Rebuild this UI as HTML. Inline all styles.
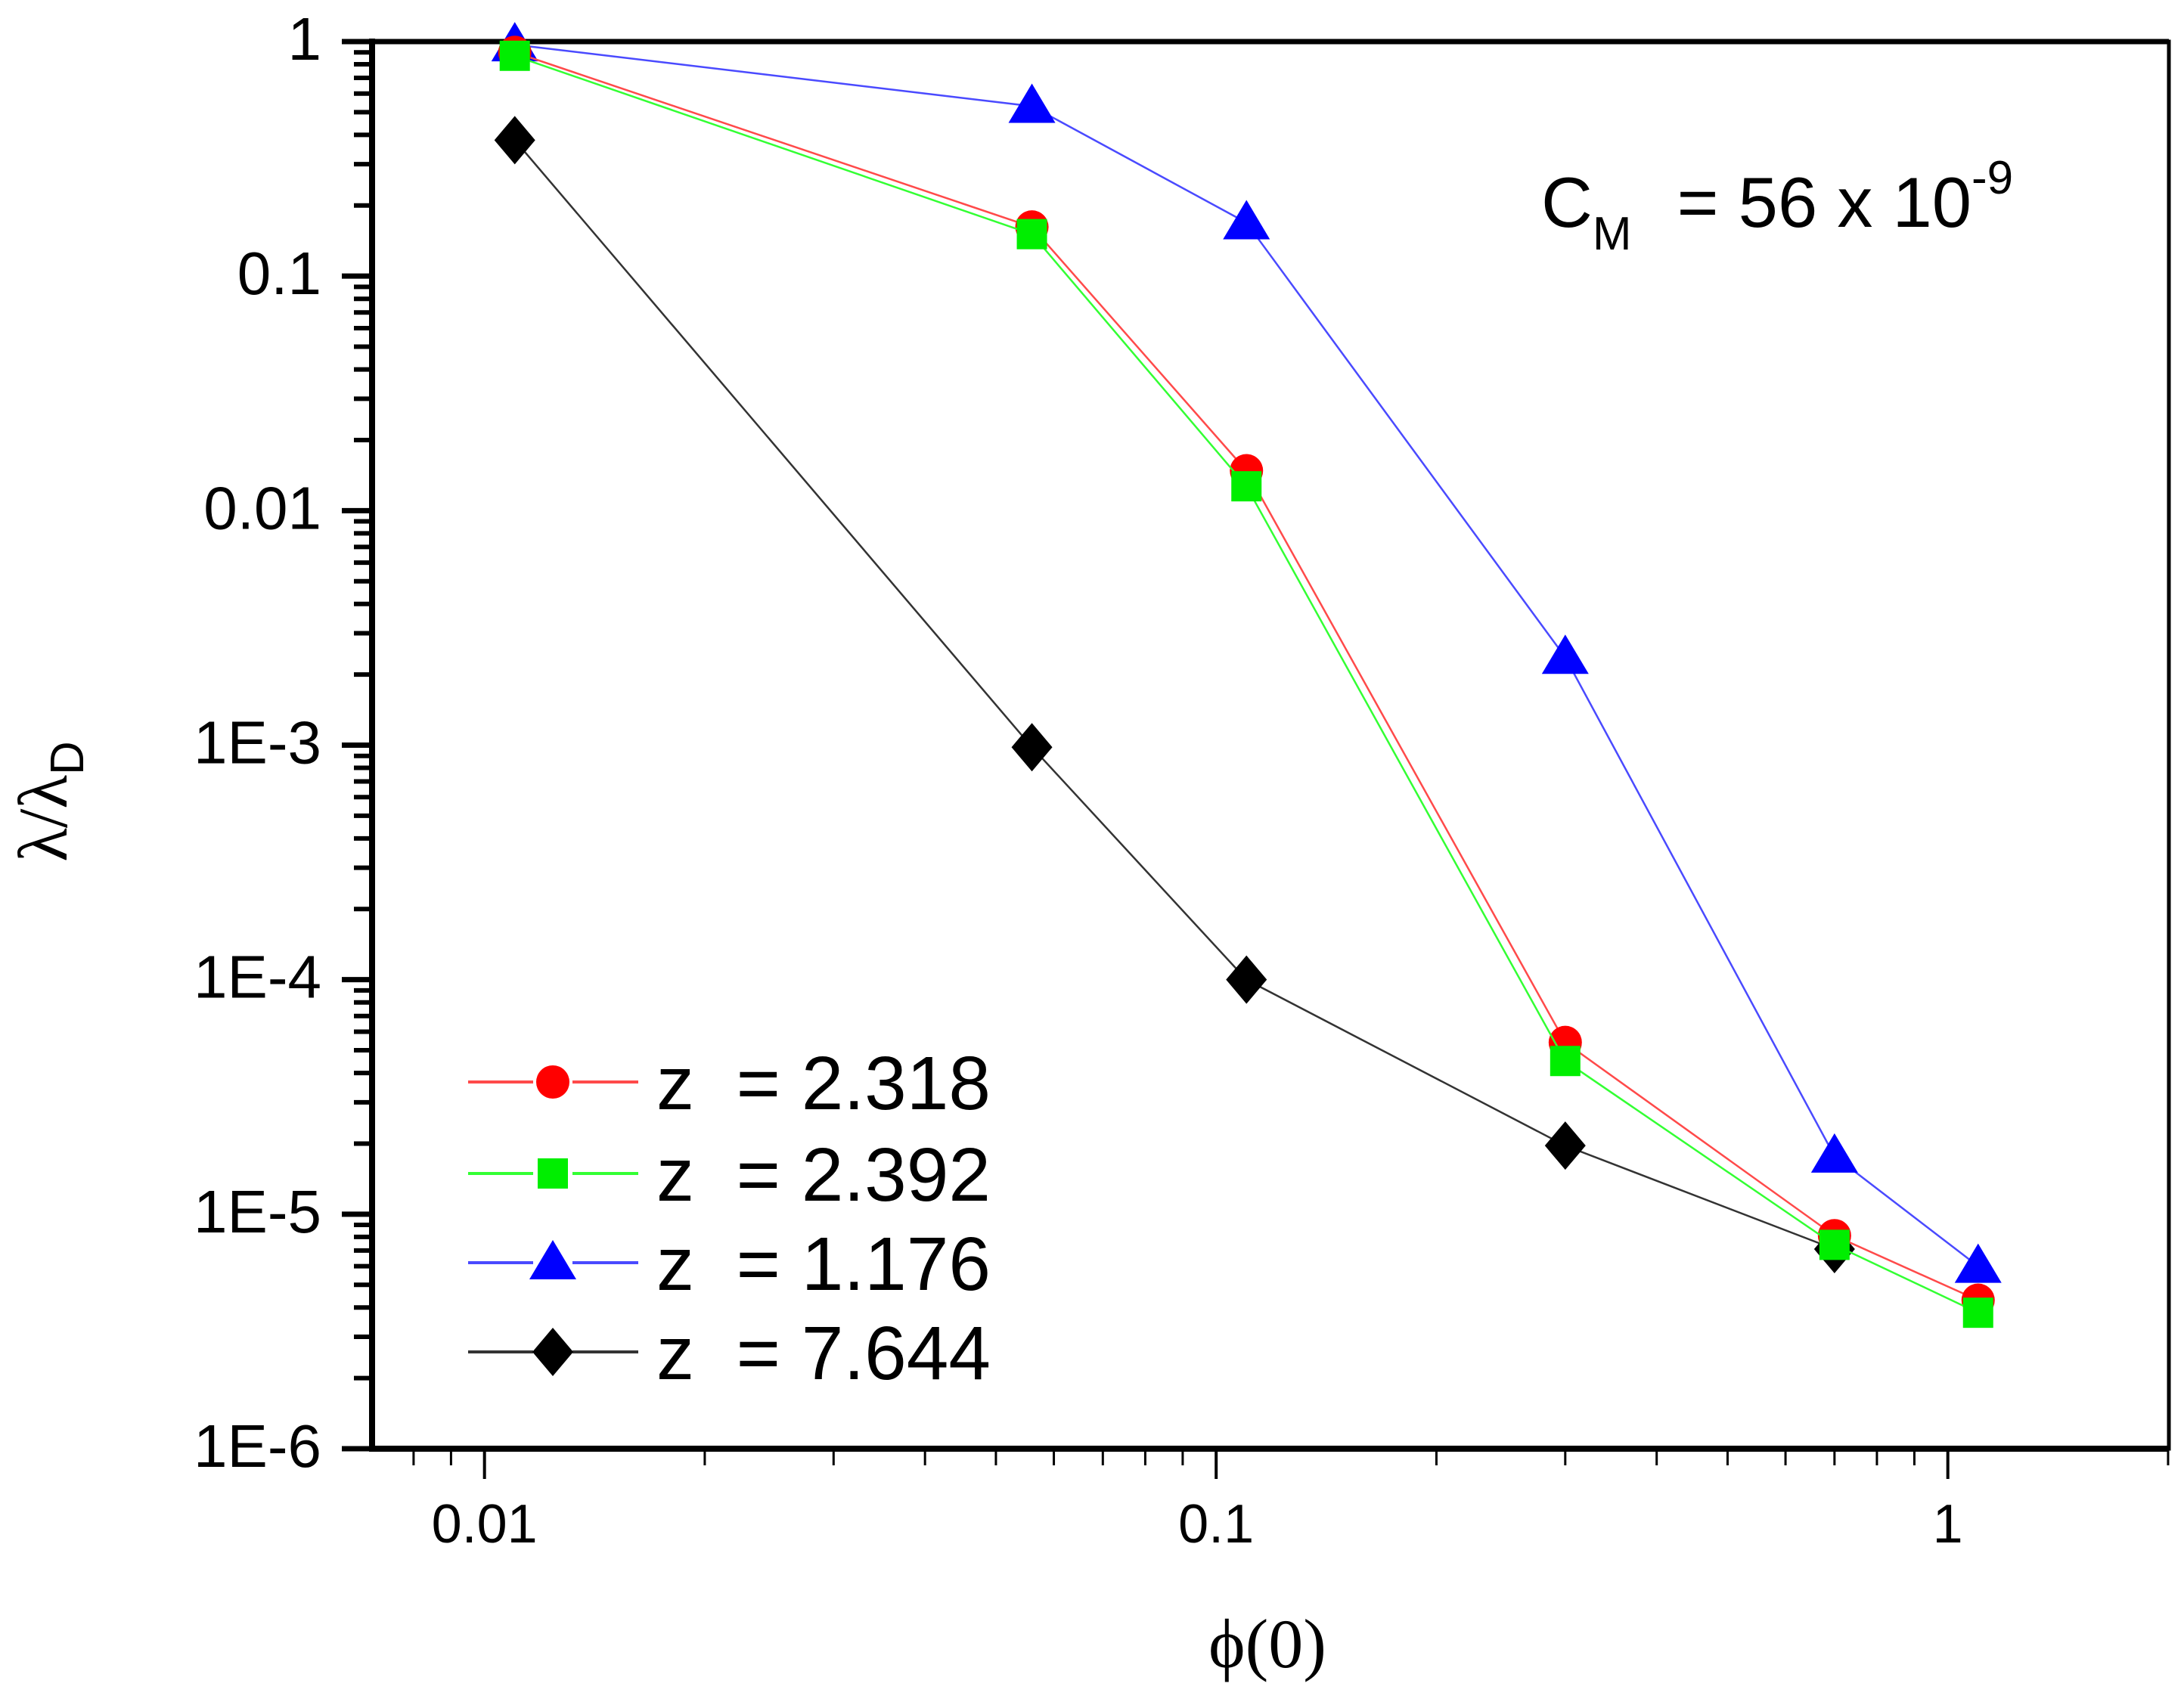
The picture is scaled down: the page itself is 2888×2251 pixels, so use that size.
<!DOCTYPE html>
<html><head><meta charset="utf-8"><style>
html,body{margin:0;padding:0;background:#fff;}
svg{display:block;}
text{font-family:"Liberation Sans",sans-serif;fill:#000;}
</style></head><body>
<svg id="chart" width="2888" height="2251" viewBox="0 0 2888 2251" xmlns="http://www.w3.org/2000/svg">
<g id="grid"></g>
<g id="series"></g>
<g id="legend"></g>
<text x="2038" y="300" font-size="94">C<tspan font-size="62" dy="30">M</tspan><tspan dy="-30"> </tspan><tspan dx="34">= 56 x 10</tspan><tspan font-size="62" dy="-44">-9</tspan></text>
<text x="1676" y="2205" font-size="92" text-anchor="middle" style="font-family:'Liberation Serif',serif">ϕ(0)</text>
<text transform="translate(88,1060) rotate(-90)" font-size="92" text-anchor="middle" style="font-family:'Liberation Serif',serif">λ/λ<tspan font-size="62" dy="22" style="font-family:'Liberation Sans',sans-serif">D</tspan></text>
</svg>
<script>
const xValues = [0.011, 0.056, 0.11, 0.3, 0.7, 1.1];
const redValues = [0.9, 0.162, 0.0148, 5.4e-5, 8.1e-6, 4.3e-6];
const greenValues = [0.87, 0.151, 0.0127, 4.5e-5, 7.4e-6, 3.8e-6];
const blueValues = [0.97, 0.53, 0.169, 2.37e-3, 1.77e-5, 6.0e-6];
const blackValues = [0.38, 9.8e-4, 1.0e-4, 1.96e-5, 7.1e-6];
const legendLabels = ["z  = 2.318", "z  = 2.392", "z  = 1.176", "z  = 7.644"];
const yTickValues = [1, 0.1, 0.01, 1e-3, 1e-4, 1e-5, 1e-6];
const yTickLabels = ["1", "0.1", "0.01", "1E-3", "1E-4", "1E-5", "1E-6"];
const xTickValues = [0.01, 0.1, 1];
const xTickLabels = ["0.01", "0.1", "1"];

const NS = "http://www.w3.org/2000/svg";
const L = 492, R = 2868, T = 55, B = 1916;
const xMin = Math.log10(0.00702), xMax = Math.log10(2.005);
const yMin = -6, yMax = 0;
function xs(v){ return L + (Math.log10(v) - xMin) / (xMax - xMin) * (R - L); }
function ys(v){ return B - (Math.log10(v) - yMin) / (yMax - yMin) * (B - T); }
function mk(tag, attrs, parent){ const e = document.createElementNS(NS, tag); for (const k in attrs) e.setAttribute(k, attrs[k]); parent.appendChild(e); return e; }

const grid = document.getElementById('grid');
let fr = mk('rect', {x:L, y:T, width:R-L, height:B-T, fill:'none', stroke:'#000', 'stroke-width':5}, grid);


let la = mk('line', {x1:L, y1:T-4, x2:L, y2:B+4, stroke:'#000', 'stroke-width':8}, grid);


let ba = mk('line', {x1:L-4, y1:B, x2:R, y2:B, stroke:'#000', 'stroke-width':8}, grid);


let ta = mk('line', {x1:L-4, y1:T, x2:R, y2:T, stroke:'#000', 'stroke-width':7}, grid);



for (let d = -6; d <= 0; d++) {
  const yy = ys(Math.pow(10, d));
  let t = mk('line', {x1:L-40, y1:yy, x2:L, y2:yy, stroke:'#000', 'stroke-width':7}, grid);
  
  
  if (d < 0) for (let m = 2; m <= 9; m++) {
    const y2 = ys(m * Math.pow(10, d));
    let mt = mk('line', {x1:L-24, y1:y2, x2:L, y2:y2, stroke:'#000', 'stroke-width':6}, grid);
    
    
  }
}
yTickValues.forEach((v, i) => {
  let tx = mk('text', {x:425, y:ys(v) + 24, 'font-size':80, 'text-anchor':'end'}, grid);
  tx.textContent = yTickLabels[i];
  
  
});
for (let d = -3; d <= 0; d++) {
  for (let m = 1; m <= 9; m++) {
    const v = m * Math.pow(10, d);
    if (v < 0.00702 || v > 2.005) continue;
    const xx = xs(v);
    const major = (m === 1);
    let t = mk('line', {x1:xx, y1:B, x2:xx, y2:B + (major ? 40 : 22), stroke:'#000', 'stroke-width':major ? 4 : 3}, grid);
    
    
  }
}
xTickValues.forEach((v, i) => {
  let tx = mk('text', {x:xs(v), y:2040, 'font-size':72, 'text-anchor':'middle'}, grid);
  tx.textContent = xTickLabels[i];
  
  
});

function marker(shape, cx, cy, color, parent){
  let e;
  if (shape === 'circle') e = mk('circle', {cx:cx, cy:cy, r:22, fill:color}, parent);
  else if (shape === 'square') e = mk('rect', {x:cx-20, y:cy-20, width:40, height:40, fill:color}, parent);
  else if (shape === 'triangle') e = mk('polygon', {points:`${cx},${cy-30} ${cx+31},${cy+22} ${cx-31},${cy+22}`, fill:color}, parent);
  else e = mk('polygon', {points:`${cx},${cy-32} ${cx+27},${cy} ${cx},${cy+32} ${cx-27},${cy}`, fill:color}, parent);
  return e;
}

const seriesDefs = [
  {vals: redValues, color:'#ff0000', line:'#ff4a4a', shape:'circle', name:'red'},
  {vals: greenValues, color:'#00ee00', line:'#33ff33', shape:'square', name:'green'},
  {vals: blueValues, color:'#0000ff', line:'#4a4aff', shape:'triangle', name:'blue'},
  {vals: blackValues, color:'#000000', line:'#333333', shape:'diamond', name:'black'}
];
const sg = document.getElementById('series');
const drawOrder = [3, 2, 0, 1];
drawOrder.forEach(si => {
  const s = seriesDefs[si];
  const g = mk('g', {}, sg);
  
  
  const pts = s.vals.map((v, i) => xs(xValues[i]).toFixed(1) + ',' + ys(v).toFixed(1)).join(' ');
  let pl = mk('polyline', {points:pts, fill:'none', stroke:s.line, 'stroke-width':2.5}, g);
  
  
  s.vals.forEach((v, i) => {
    let m = marker(s.shape, xs(xValues[i]), ys(v), s.color, g);
    
    
  });
});

const lg = document.getElementById('legend');
const legendY = [1431, 1552, 1670, 1788];
seriesDefs.forEach((s, i) => {
  const g = mk('g', {}, lg);
  
  
  const yy = legendY[i], cx = 731;
  mk('line', {x1:619, y1:yy, x2:705, y2:yy, stroke:s.line, 'stroke-width':4}, g);
  mk('line', {x1:757, y1:yy, x2:844, y2:yy, stroke:s.line, 'stroke-width':4}, g);
  marker(s.shape, cx, yy, s.color, g);
  let tx = mk('text', {x:868, y:yy + 36, 'font-size':100}, g);
  tx.setAttribute('xml:space', 'preserve');
  tx.style.whiteSpace = 'pre';
  tx.textContent = legendLabels[i];
  
  
});
</script>
</body></html>
